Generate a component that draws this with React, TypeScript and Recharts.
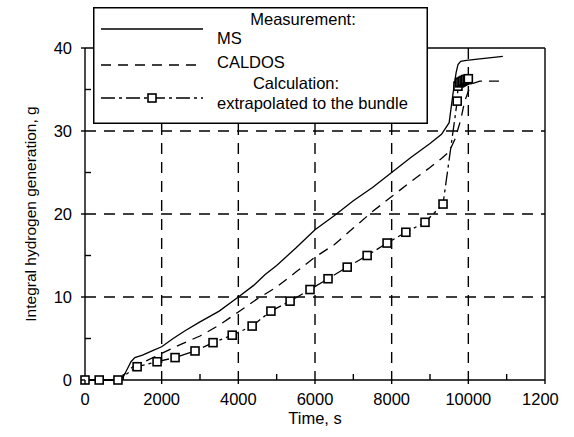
import {
  CartesianGrid,
  Legend,
  Line,
  LineChart,
  ReferenceLine,
  XAxis,
  YAxis,
} from "recharts";

const FONT = '"Liberation Sans", Arial, sans-serif';

// Measurement MS (solid)
const msTime = [0, 900, 1000, 1100, 1200, 1300, 1500, 1750, 2000, 2300, 2600, 3000, 3500, 4000, 4400, 4700, 5000, 5500, 6000, 6500, 7000, 7500, 8000, 8500, 9000, 9300, 9500, 9600, 9680, 9730, 9800, 9950, 10300, 10900];
const msValue = [0, 0, 0.4, 1.3, 2.2, 2.7, 3.0, 3.5, 4.0, 5.0, 5.9, 7.0, 8.3, 10.0, 11.4, 12.7, 13.8, 15.9, 18.1, 19.8, 21.6, 23.2, 25.0, 26.8, 28.5, 29.6, 31.0, 34.5, 37.0, 38.0, 38.4, 38.5, 38.7, 39.0];

// Measurement CALDOS (dashed)
const caldosTime = [0, 900, 1050, 1250, 1500, 2000, 2500, 3000, 3500, 4000, 4500, 5000, 5500, 6000, 6500, 7000, 7500, 8000, 8500, 9000, 9300, 9500, 9650, 9800, 9900, 10000, 10100, 10300, 10900];
const caldosValue = [0, 0, 0.8, 1.6, 2.1, 3.2, 4.3, 5.3, 6.6, 8.2, 9.8, 11.2, 13.0, 14.8, 16.3, 18.3, 20.3, 22.1, 23.9, 25.6, 26.7, 27.5, 29.0, 31.3, 33.5, 34.8, 35.7, 36.0, 36.0];

// Calculation, extrapolated to the bundle (dash-dot with squares)
const calcTime = [0, 370, 860, 1360, 1880, 2350, 2870, 3340, 3840, 4360, 4850, 5350, 5870, 6340, 6840, 7360, 7880, 8370, 8870, 9340, 9710, 9730, 9770, 9810, 9850, 9890, 9930, 9970, 10000];
const calcValue = [0, 0, 0, 1.6, 2.2, 2.7, 3.5, 4.5, 5.4, 6.5, 8.3, 9.5, 10.9, 12.2, 13.6, 15.0, 16.5, 17.8, 19.0, 21.2, 33.6, 35.4, 35.8, 35.9, 36.0, 36.1, 36.2, 36.2, 36.3];

const xTicks = [0, 1000, 2000, 3000, 4000, 5000, 6000, 7000, 8000, 9000, 10000, 11000, 12000];
const yTicks = [0, 5, 10, 15, 20, 25, 30, 35, 40];

const msData = msTime.map((t, i) => ({ t, v: msValue[i] }));
const caldosData = caldosTime.map((t, i) => ({ t, v: caldosValue[i] }));
const calcData = calcTime.map((t, i) => ({ t, v: calcValue[i] }));

const TS = 4;
const TM = 9;

const XTick = (props: any) => {
  const { x, y, payload } = props;
  const v = payload.value;
  const axisY = y - TS - TM;
  const major = v % 2000 === 0;
  return (
    <g>
      {major ? (
        <line x1={x} x2={x} y1={axisY} y2={axisY + TS} stroke="#000" strokeWidth={1.4} />
      ) : (
        <line x1={x} x2={x} y1={axisY} y2={axisY - 6} stroke="#000" strokeWidth={1.4} />
      )}
      {major && (
        <text x={x} y={axisY + TS + TM} dy="0.71em" textAnchor="middle" fill="#000" fontSize={16.5} fontFamily={FONT}>
          {v}
        </text>
      )}
    </g>
  );
};

const YTick = (props: any) => {
  const { x, y, payload } = props;
  const v = payload.value;
  const axisX = x + TS + TM;
  const major = v % 10 === 0;
  return (
    <g>
      {major ? (
        <line x1={axisX - TS} x2={axisX} y1={y} y2={y} stroke="#000" strokeWidth={1.4} />
      ) : (
        <line x1={axisX} x2={axisX + 6} y1={y} y2={y} stroke="#000" strokeWidth={1.4} />
      )}
      {major && (
        <text x={axisX - TS - TM} y={y} dy="0.36em" textAnchor="end" fill="#000" fontSize={16.5} fontFamily={FONT}>
          {v}
        </text>
      )}
    </g>
  );
};

const Square = (p: any) => (
  <rect
    x={p.cx - 4}
    y={p.cy - 4}
    width={8}
    height={8}
    fill="#fff"
    stroke="#000"
    strokeWidth={1.6}
  />
);

const LegendBox = () => (
  <svg width={335} height={117} style={{ display: "block" }}>
    <rect x={0.75} y={0.75} width={333.5} height={115.5} fill="#fff" stroke="#000" strokeWidth={1.5} />
    <g fontFamily={FONT} fontSize={16.5} fill="#000">
      <text x={210} y={12} dy="0.36em" textAnchor="middle">Measurement:</text>
      <line x1={8} x2={110} y1={22} y2={22} stroke="#000" strokeWidth={1.4} />
      <text x={124} y={31} dy="0.36em">MS</text>
      <line x1={8} x2={110} y1={58} y2={58} stroke="#000" strokeWidth={1.4} strokeDasharray="10 7" />
      <text x={124} y={55} dy="0.36em">CALDOS</text>
      <text x={203} y={76} dy="0.36em" textAnchor="middle">Calculation:</text>
      <line x1={8} x2={110} y1={91} y2={91} stroke="#000" strokeWidth={1.4} strokeDasharray="14 4 3 4" />
      <rect x={55} y={87} width={8} height={8} fill="#fff" stroke="#000" strokeWidth={1.6} />
      <text x={124} y={96} dy="0.36em">extrapolated to the bundle</text>
    </g>
  </svg>
);

export default function App() {
  return (
    <div style={{ position: "absolute", left: 0, top: 0 }}>
      <LineChart width={559} height={437} margin={{ top: 48, right: 14, bottom: 7, left: 0 }}>
        <CartesianGrid
          stroke="#000"
          strokeWidth={1.4}
          strokeDasharray="11 8"
          verticalValues={[2000, 4000, 6000, 8000, 10000]}
          horizontalValues={[10, 20, 30]}
        />
        <XAxis
          type="number"
          dataKey="t"
          domain={[0, 12000]}
          ticks={xTicks}
          interval={0}
          height={50}
          tickLine={false}
          tickSize={TS}
          tickMargin={TM}
          tick={<XTick />}
          axisLine={{ stroke: "#000", strokeWidth: 1.4 }}
          label={{ value: "Time, s", position: "center", dy: 13, fill: "#000", fontSize: 16.5, fontFamily: FONT }}
        />
        <YAxis
          type="number"
          domain={[0, 40]}
          ticks={yTicks}
          interval={0}
          width={85}
          tickLine={false}
          tickSize={TS}
          tickMargin={TM}
          tick={<YTick />}
          axisLine={{ stroke: "#000", strokeWidth: 1.4 }}
          label={{ value: "Integral hydrogen generation, g", angle: -90, position: "center", dx: -12, fill: "#000", fontSize: 15.5, fontFamily: FONT }}
        />
        <ReferenceLine y={40} stroke="#000" strokeWidth={1.4} />
        <ReferenceLine x={12000} stroke="#000" strokeWidth={1.4} />
        <Line data={msData} dataKey="v" type="linear" stroke="#000" strokeWidth={1.3} dot={false} isAnimationActive={false} />
        <Line data={caldosData} dataKey="v" type="linear" stroke="#000" strokeWidth={1.3} strokeDasharray="10 7" dot={false} isAnimationActive={false} />
        <Line
          data={calcData}
          dataKey="v"
          type="linear"
          stroke="#000"
          strokeWidth={1.3}
          strokeDasharray="14 4 3 4"
          dot={(p: any) => <Square key={`sq-${p.index}`} {...p} />}
          isAnimationActive={false}
        />
        <Legend
          layout="vertical"
          align="center"
          verticalAlign="middle"
          wrapperStyle={{ left: 93, top: 7, width: 335, height: 117 }}
          content={() => <LegendBox />}
        />
      </LineChart>
    </div>
  );
}
